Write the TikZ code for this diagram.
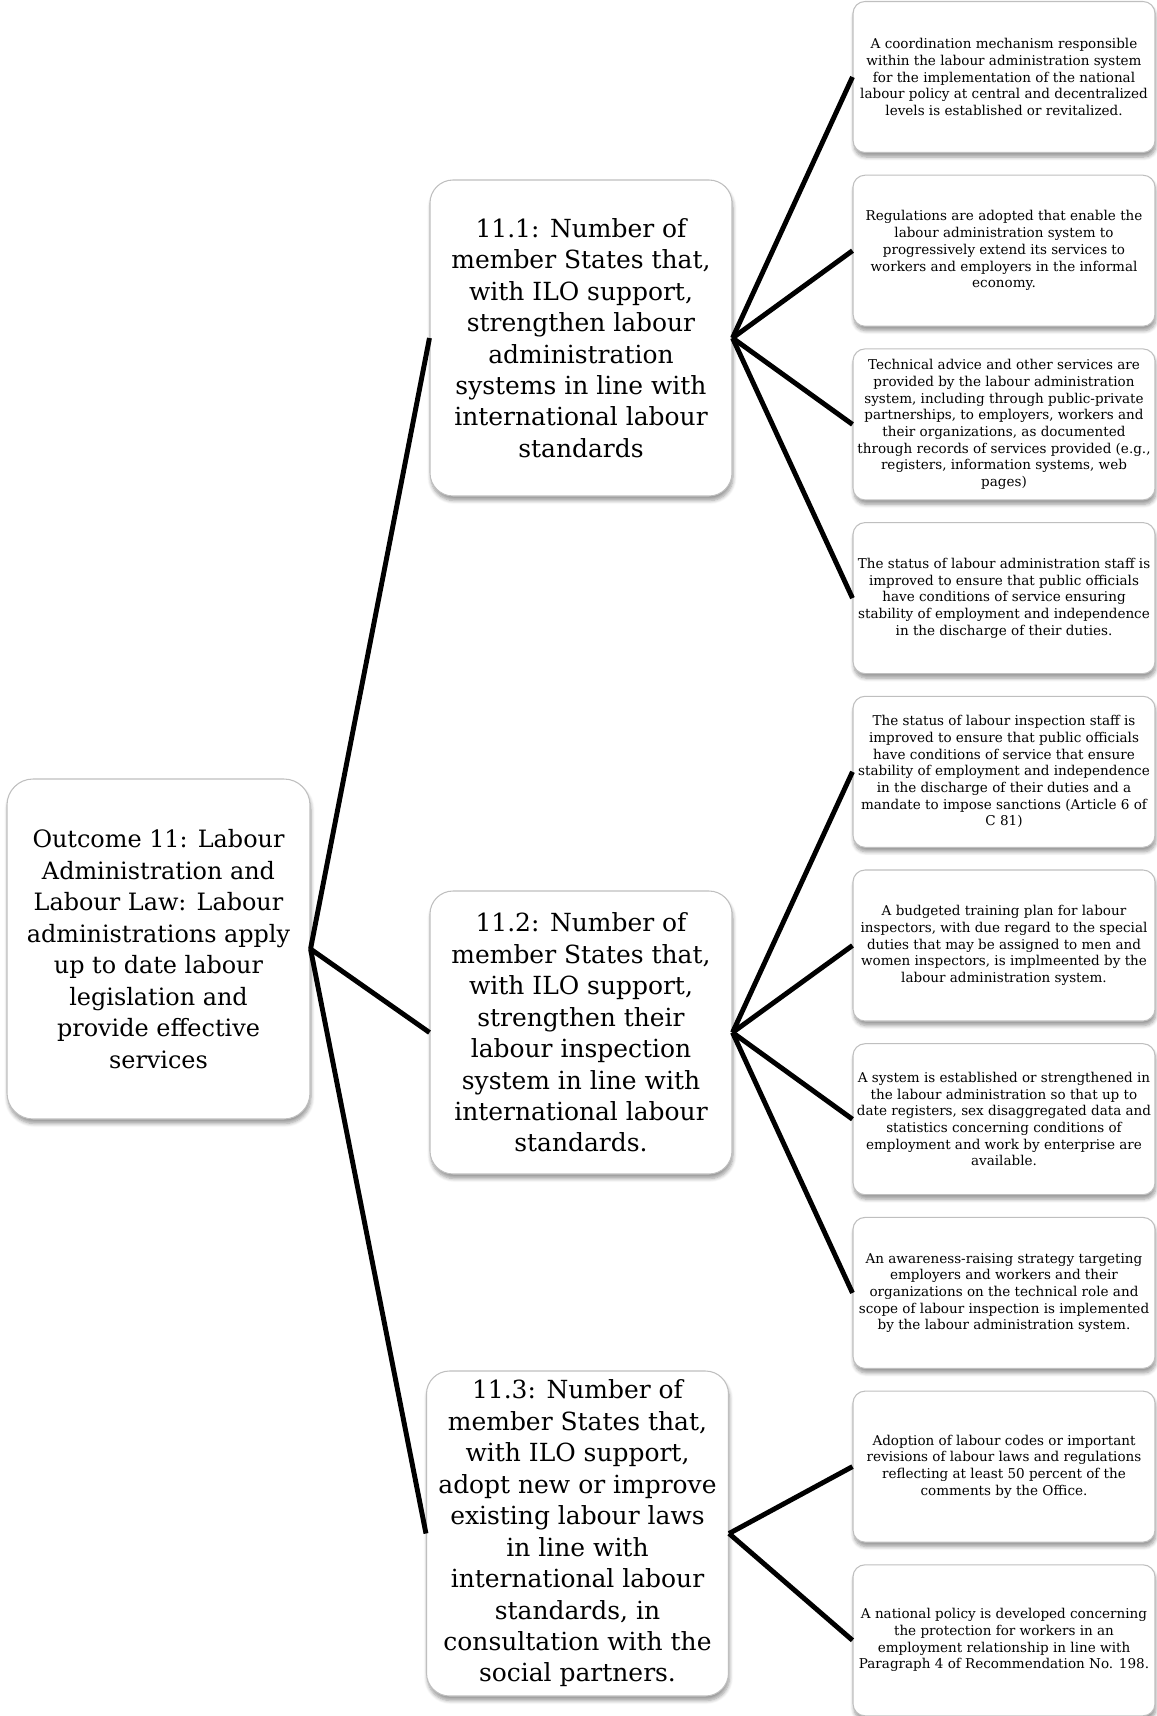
\documentclass[tikz,border=0pt]{standalone}
\usepackage{fontspec}
\setmainfont{DejaVu Serif}
\usetikzlibrary{shadows.blur}
\tikzset{
  box/.style={draw=black!25,line width=0.6pt,fill=white,align=center,inner sep=0pt,
    blur shadow={shadow xshift=0.02cm,shadow yshift=-0.09cm,shadow blur steps=6}},
  outcome/.style={box,rounded corners=0.52cm,minimum width=6.06cm,minimum height=6.8cm,
    font=\fontsize{13.6}{17.9}\selectfont},
  indicator/.style={box,rounded corners=0.46cm,minimum width=6.04cm,
    font=\fontsize{14.2}{17.9}\selectfont},
  milestone/.style={box,rounded corners=0.24cm,minimum width=6.04cm,minimum height=3.02cm,
    font=\fontsize{7.7}{9.5}\selectfont},
  link/.style={line width=2.8pt,black}
}

\begin{document}
\begin{tikzpicture}
  \useasboundingbox (0,0) rectangle (23.12,-34.32);
  \def\mx{20.08}
  \def\dy{3.474}

  % outcome and indicators
  \node[outcome] (outcome) at (3.17,-18.98) {Outcome 11: Labour\\ Administration and\\ Labour Law: Labour\\ administrations apply\\ up to date labour\\ legislation and\\ provide effective\\ services};
  \node[indicator,minimum height=6.32cm] (ind1) at (11.62,-6.76) {11.1: Number of\\ member States that,\\ with ILO support,\\ strengthen labour\\ administration\\ systems in line with\\ international labour\\ standards};
  \node[indicator,minimum height=5.66cm] (ind2) at (11.62,-20.65) {11.2: Number of\\ member States that,\\ with ILO support,\\ strengthen their\\ labour inspection\\ system in line with\\ international labour\\ standards.};
  \node[indicator,minimum height=6.5cm] (ind3) at (11.55,-30.67) {11.3: Number of\\ member States that,\\ with ILO support,\\ adopt new or improve\\ existing labour laws\\ in line with\\ international labour\\ standards, in\\ consultation with the\\ social partners.};

  % milestones
  \node[milestone] (ms1) at (\mx,-1.54) {A coordination mechanism responsible\\ within the labour administration system\\ for the implementation of the national\\ labour policy at central and decentralized\\ levels is established or revitalized.};
  \node[milestone] (ms2) at (\mx,-1.54-\dy) {Regulations are adopted that enable the\\ labour administration system to\\ progressively extend its services to\\ workers and employers in the informal\\ economy.};
  \node[milestone] (ms3) at (\mx,-1.54-2*\dy) {Technical advice and other services are\\ provided by the labour administration\\ system, including through public-private\\ partnerships, to employers, workers and\\ their organizations, as documented\\ through records of services provided (e.g.,\\ registers, information systems, web\\ pages)};
  \node[milestone] (ms4) at (\mx,-1.54-3*\dy) {The status of labour administration staff is\\ improved to ensure that public officials\\ have conditions of service ensuring\\ stability of employment and independence\\ in the discharge of their duties.};
  \node[milestone] (ms5) at (\mx,-1.54-4*\dy) {The status of labour inspection staff is\\ improved to ensure that public officials\\ have conditions of service that ensure\\ stability of employment and independence\\ in the discharge of their duties and a\\ mandate to impose sanctions (Article 6 of\\ C 81)};
  \node[milestone] (ms6) at (\mx,-1.54-5*\dy) {A budgeted training plan for labour\\ inspectors, with due regard to the special\\ duties that may be assigned to men and\\ women inspectors, is implmeented by the\\ labour administration system.};
  \node[milestone] (ms7) at (\mx,-1.54-6*\dy) {A system is established or strengthened in\\ the labour administration so that up to\\ date registers, sex disaggregated data and\\ statistics concerning conditions of\\ employment and work by enterprise are\\ available.};
  \node[milestone] (ms8) at (\mx,-1.54-7*\dy) {An awareness-raising strategy targeting\\ employers and workers and their\\ organizations on the technical role and\\ scope of labour inspection is implemented\\ by the labour administration system.};
  \node[milestone] (ms9) at (\mx,-1.54-8*\dy) {Adoption of labour codes or important\\ revisions of labour laws and regulations\\ reflecting at least 50 percent of the\\ comments by the Office.};
  \node[milestone] (ms10) at (\mx,-1.54-9*\dy) {A national policy is developed concerning\\ the protection for workers in an\\ employment relationship in line with\\ Paragraph 4 of Recommendation No. 198.};

  % connectors
  \foreach \j in {1,2,3} \draw[link] (outcome.east) -- (ind\j.west);
  \foreach \k in {1,...,4} \draw[link] (ind1.east) -- (ms\k.west);
  \foreach \k in {5,...,8} \draw[link] (ind2.east) -- (ms\k.west);
  \foreach \k in {9,10} \draw[link] (ind3.east) -- (ms\k.west);
\end{tikzpicture}
\end{document}
